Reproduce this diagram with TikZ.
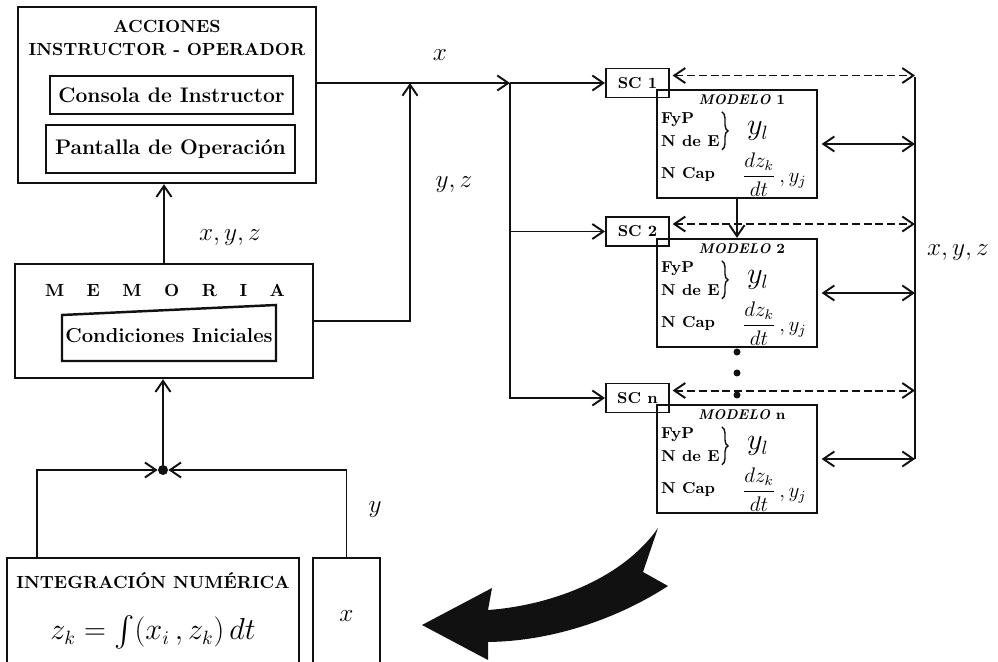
\documentclass[tikz,border=0pt]{standalone}
\usepackage{tikz}
\usepackage{amsmath}
\usetikzlibrary{arrows.meta, positioning, calc, decorations.pathreplacing}
\definecolor{inkline}{HTML}{111111}

\begin{document}
\begin{tikzpicture}[x=0.02cm, y=-0.02cm,
    box/.style={draw=inkline, line width=1.4pt, inner sep=0pt},
    thinbox/.style={draw=inkline, line width=0.8pt, inner sep=0pt},
    plain/.style={draw=inkline, line width=1.1pt},
    conn/.style={plain, -{Straight Barb[length=2.2mm, width=3mm]}},
    lbl/.style={font=\fontsize{15}{17}\selectfont, inner sep=1pt}]
    \useasboundingbox (0,0) rectangle (998,662);
    \fill[white] (0,0) rectangle (998,662);
    % left column
    \node[box, minimum width=5.96cm, minimum height=3.52cm] (acc) at (167,95) {};
    \node[font=\bfseries, align=center, inner sep=0pt] (acct) at (167,38)
      {ACCIONES\\[1.5pt]INSTRUCTOR - OPERADOR};
    \node[thinbox, minimum width=4.86cm, minimum height=0.76cm, font=\large\bfseries]
      (cons) at (171.5,95) {Consola de Instructor};
    \node[thinbox, line width=1pt, minimum width=4.98cm, minimum height=0.96cm, font=\large\bfseries]
      (pant) at (170.5,149) {Pantalla de Operación};
    \node[box, minimum width=5.96cm, minimum height=2.28cm] (mem) at (164,321) {};
    \node[font=\bfseries, inner sep=0pt] (memt) at (165,290)
      {\makebox[4.8cm]{M\hfill E\hfill M\hfill O\hfill R\hfill I\hfill A}};
    \draw[box] (62,315) -- (276,305) -- (276,361) -- (62,361) -- cycle;
    \node[font=\fontsize{11.5}{13}\selectfont\bfseries] (cond) at (169,336) {Condiciones Iniciales};
    \node[box, minimum width=5.84cm, minimum height=2.34cm] (integ) at (153,616.5) {};
    \node[font=\bfseries, inner sep=0pt] (integt) at (153,581) {INTEGRACIÓN NUMÉRICA};
    \node[inner sep=0pt] (integf) at (153,632)
      {\fontsize{16}{19}\selectfont $z_k = \int (x_i\,, z_k)\, dt$};
    \node[box, lbl, minimum width=1.34cm, minimum height=2.34cm] (xbox) at (346.5,616.5) {$x$};
    \node[circle, fill=inkline, inner sep=0pt, minimum size=0.2cm] (jn) at (163,470) {};
    \draw[conn] (jn) -- (jn |- mem.south);
    \draw[conn] ([xshift=0.62cm]integ.north west) |- (jn);
    \draw[conn] (xbox.north) |- (jn);
    \draw[conn] (mem) -- (mem |- acc.south);
    % right column
    \foreach \n/\sy/\my in {1/83/144, 2/231.5/293, n/398/459}{%
      \node[box, line width=1.1pt, minimum width=1.26cm, minimum height=0.58cm, font=\small\bfseries]
        (sc\n) at (637.5,\sy) {SC \n};
      \node[box, line width=1.3pt, minimum width=3.2cm, minimum height=2.16cm] (m\n) at (737,\my) {};
      \node[font=\footnotesize\bfseries, inner sep=0pt] (mt\n) at ([shift={(86,11)}]m\n.north west)
        {\textit{MODELO} \n};
      \node[font=\small\bfseries, anchor=west, inner sep=0pt] (fyp\n) at ([shift={(5,31)}]m\n.north west) {FyP};
      \node[font=\small\bfseries, anchor=west, inner sep=0pt] (nde\n) at ([shift={(5,52)}]m\n.north west) {N de E};
      \draw[inkline, line width=0.8pt, decorate, decoration={brace, amplitude=3.5pt}]
        ([shift={(66,23)}]m\n.north west) -- ([shift={(66,61)}]m\n.north west);
      \node[lbl, font=\fontsize{16}{18}\selectfont, inner sep=0pt] (yl\n) at ([shift={(102,42)}]m\n.north west) {$y_l$};
      \node[font=\small\bfseries, anchor=west, inner sep=0pt] (ncap\n) at ([shift={(5,86)}]m\n.north west) {N Cap};
      \node[lbl, font=\large, anchor=west, inner sep=0pt] (fr\n)
        at ([shift={(86,86)}]m\n.north west) {$\dfrac{dz_k}{dt}\,,y_j$};
    }
    \coordinate (split) at (510,83);
    \coordinate (merge) at (410,83);
    \coordinate (bustop) at (915,77);
    \draw[conn] (acc.east |- split) -- (split);
    \draw[conn] (mem.east) -| (merge);
    \draw[conn] (split) -- (sc1);
    \draw[conn] (split) |- (sc2);
    \draw[conn] (split) |- (scn);
    \draw[conn] (m1) -- (m2);
    \draw[plain] (bustop) -- (bustop |- mn.east);
    \foreach \n in {1,2,n}{%
      \coordinate (d\n) at ([yshift=-0.16cm]sc\n.north east);
      \draw[plain, dash pattern=on 4.5pt off 2.2pt, shorten <=1.5pt,
        {Straight Barb[length=2.2mm, width=3mm]}-{Straight Barb[length=2.2mm, width=3mm]}]
        (d\n) -- (d\n -| bustop);
      \draw[plain, shorten <=2pt,
        {Straight Barb[length=2.2mm, width=3mm]}-{Straight Barb[length=2.2mm, width=3mm]}]
        (m\n.east) -- (m\n.east -| bustop);
    }
    \foreach \d in {352,373,395}{%
      \fill[inkline] (737,\d) circle (3.5);}
    % labels
    \node[lbl] (lx) at (440,55) {$x$};
    \node[lbl] (lyz) at (454,185) {$y, z$};
    \node[lbl] (lxyz) at (230,238) {$x, y, z$};
    \node[lbl] (lbus) at (958,253) {$x, y, z$};
    \node[lbl] (ly) at (375,510) {$y$};
    % curved arrow
    \fill[inkline] (422,625) -- (492,588) -- (488,610)
      .. controls (545,606) and (620,582) .. (658,528) -- (643,572) -- (668,586)
      .. controls (625,614) and (560,641) .. (488,642) -- (488,660) -- cycle;
  \end{tikzpicture}
\end{document}
